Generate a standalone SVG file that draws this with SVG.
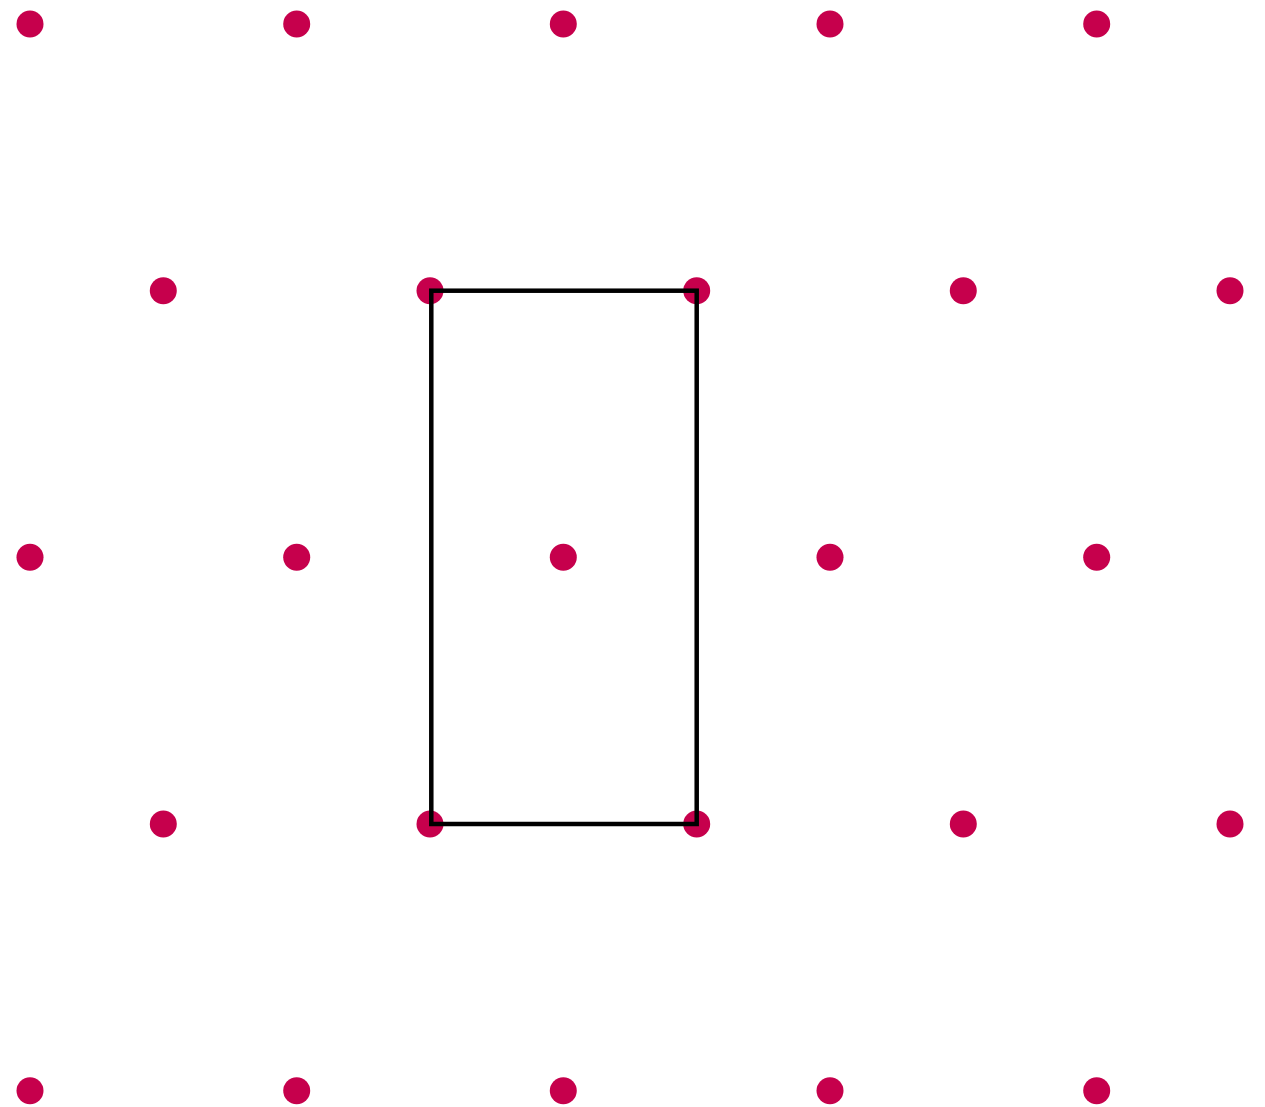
<svg xmlns="http://www.w3.org/2000/svg" width="1265" height="1107" viewBox="0 0 1265 1107">
<style>
.d{fill:#c6004c}
.r{fill:none;stroke:#000;stroke-width:4.5;stroke-linejoin:miter}
</style>
<defs><circle id="p" r="13.5" class="d"/></defs>
<rect width="1265" height="1107" fill="#fff"/>
<g id="dots">
<use href="#p" x="30" y="24"/><use href="#p" x="296.7" y="24"/><use href="#p" x="563.3" y="24"/><use href="#p" x="830" y="24"/><use href="#p" x="1096.7" y="24"/>
<use href="#p" x="163.3" y="290.7"/><use href="#p" x="430" y="290.7"/><use href="#p" x="696.7" y="290.7"/><use href="#p" x="963.3" y="290.7"/><use href="#p" x="1230" y="290.7"/>
<use href="#p" x="30" y="557.3"/><use href="#p" x="296.7" y="557.3"/><use href="#p" x="563.3" y="557.3"/><use href="#p" x="830" y="557.3"/><use href="#p" x="1096.7" y="557.3"/>
<use href="#p" x="163.3" y="824"/><use href="#p" x="430" y="824"/><use href="#p" x="696.7" y="824"/><use href="#p" x="963.3" y="824"/><use href="#p" x="1230" y="824"/>
<use href="#p" x="30" y="1090.7"/><use href="#p" x="296.7" y="1090.7"/><use href="#p" x="563.3" y="1090.7"/><use href="#p" x="830" y="1090.7"/><use href="#p" x="1096.7" y="1090.7"/>
</g>
<g id="rectangle">
<rect class="r" x="431.3" y="290.7" width="265.4" height="533.3"/>
</g>
</svg>
